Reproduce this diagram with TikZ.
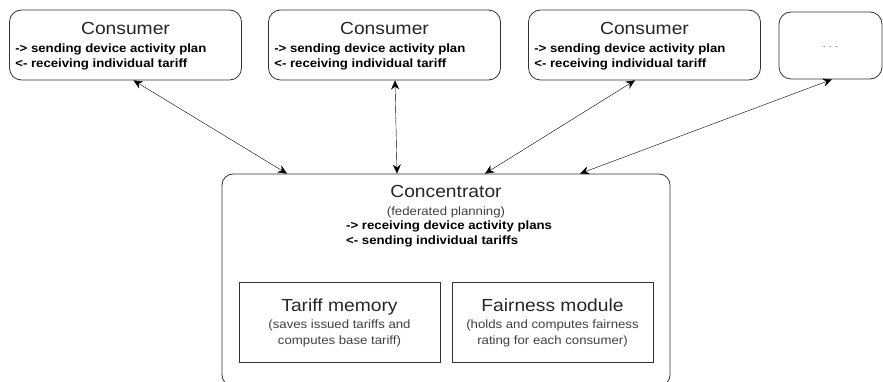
\documentclass[tikz,border=0pt]{standalone}
\usepackage{fontspec}
\setmainfont{Liberation Sans}[FakeStretch=1.1]
\usepackage{tikz}
\usetikzlibrary{arrows.meta, positioning}
\tikzstyle{arrow} = [thin, <->, >={Stealth[length=9pt,width=8pt]}]
\tikzstyle{consumer} = [rectangle, rounded corners=12pt, draw=black!80, thick, minimum width=232pt, minimum height=70pt]
\tikzstyle{module} = [rectangle, draw=black!80, thick, minimum width=201pt, minimum height=80pt]
\tikzstyle{title} = [font=\fontsize{17.5}{19}\selectfont, text=black!85, inner sep=0pt, anchor=base]
\tikzstyle{tasks} = [font=\fontsize{12}{15}\selectfont\bfseries, align=left, inner sep=0pt, anchor=north west]
\tikzstyle{note} = [font=\fontsize{12}{16.5}\selectfont, text=black!75, align=center, inner sep=0pt, anchor=base]

\begin{document}
\begin{tikzpicture}[x=1pt, y=1pt]
\useasboundingbox (0,0) rectangle (883,-382);

% Consumers
\node (cons1) [consumer] at (125.5,-45) {};
\node [title] at ([yshift=-25pt]cons1.north) {Consumer};
\node [tasks] at ([xshift=6pt,yshift=-34pt]cons1.north west) {-> sending device activity plan\\<- receiving individual tariff};

\node (cons2) [consumer] at (384.5,-45) {};
\node [title] at ([yshift=-25pt]cons2.north) {Consumer};
\node [tasks] at ([xshift=6pt,yshift=-34pt]cons2.north west) {-> sending device activity plan\\<- receiving individual tariff};

\node (cons3) [consumer] at (644.5,-45) {};
\node [title] at ([yshift=-25pt]cons3.north) {Consumer};
\node [tasks] at ([xshift=6pt,yshift=-34pt]cons3.north west) {-> sending device activity plan\\<- receiving individual tariff};

\node (more) [consumer, minimum width=103pt, minimum height=67pt, text=black!60] at (830.5,-45.5) {\raisebox{-4pt}{.\,\,.\,\,.}};

% Concentrator
\node (conc) [rectangle, rounded corners=11pt, draw=black!80, thick, minimum width=448pt, minimum height=212pt] at (446,-280) {};
\node [title] at (446,-198) {Concentrator};
\node [note] at (446,-215) {(federated planning)};
\node [tasks] at (346,-221) {-> receiving device activity plans\\<- sending individual tariffs};

% Modules
\node (tariff) [module] at (339.5,-322) {};
\node [title] at ([yshift=-30pt]tariff.north) {Tariff memory};
\node [note] at ([yshift=-63pt]tariff.north) {(saves issued tariffs and\\computes base tariff)};

\node (fair) [module] at (552.5,-322) {};
\node [title] at ([yshift=-30pt]fair.north) {Fairness module};
\node [note] at ([yshift=-63pt]fair.north) {(holds and computes fairness\\rating for each consumer)};

% Arrows
\draw [arrow] ([xshift=8pt]cons1.south) -- ([xshift=-159pt]conc.north);
\draw [arrow] ([xshift=10.5pt]cons2.south) -- ([xshift=-49pt]conc.north);
\draw [arrow] ([xshift=-9.5pt]cons3.south) -- ([xshift=39pt]conc.north);
\draw [arrow] ([xshift=1.5pt]more.south) -- ([xshift=134pt]conc.north);

\end{tikzpicture}
\end{document}
